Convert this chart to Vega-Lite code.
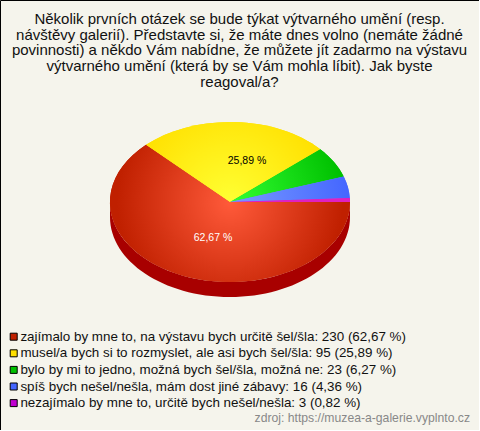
{
"$schema":"https://vega.github.io/schema/vega-lite/v6.json",
"width":479,"height":430,"padding":0,"autosize":{"type":"none"},
"background":"#f5f4ec",
"title":{"text":["Několik prvních otázek se bude týkat výtvarného umění (resp.","návštěvy galerií). Představte si, že máte dnes volno (nemáte žádné","povinnosti) a někdo Vám nabídne, že můžete jít zadarmo na výstavu","výtvarného umění (která by se Vám mohla líbit). Jak byste","reagoval/a?"],
"font":"Liberation Sans","fontSize":15,"fontWeight":"normal","color":"#111111","lineHeight":15.8,"anchor":"middle","frame":"group","baseline":"top","offset":-90},
"config":{"view":{"stroke":"#000000","strokeWidth":1,"fill":"#f5f4ec"}},
"data":{"values":[
{"answer":"zajímalo by mne to, na výstavu bych určitě šel/šla","count":230,"share":"62,67 %","label":"zajímalo by mne to, na výstavu bych určitě šel/šla: 230 (62,67 %)"},
{"answer":"musel/a bych si to rozmyslet, ale asi bych šel/šla","count":95,"share":"25,89 %","label":"musel/a bych si to rozmyslet, ale asi bych šel/šla: 95 (25,89 %)"},
{"answer":"bylo by mi to jedno, možná bych šel/šla, možná ne","count":23,"share":"6,27 %","label":"bylo by mi to jedno, možná bych šel/šla, možná ne: 23 (6,27 %)"},
{"answer":"spíš bych nešel/nešla, mám dost jiné zábavy","count":16,"share":"4,36 %","label":"spíš bych nešel/nešla, mám dost jiné zábavy: 16 (4,36 %)"},
{"answer":"nezajímalo by mne to, určitě bych nešel/nešla","count":3,"share":"0,82 %","label":"nezajímalo by mne to, určitě bych nešel/nešla: 3 (0,82 %)"}
]},
"encoding":{
"x":{"datum":0,"type":"quantitative","axis":null,"scale":{"domain":[-230,249],"nice":false,"zero":false}},
"y":{"datum":0,"type":"quantitative","axis":null,"scale":{"domain":[-228,202],"nice":false,"zero":false}}
},
"layer":[
{"transform":[{"filter":"datum.count===230"}],
 "mark":{"type":"point","filled":true,"opacity":1,"size":57600,"color":"#a80000","shape":"M-1,0 L-1,.125 A1,.6667 0 0 0 1,.125 L1,0 A1,.6667 0 0 1 -1,0 Z"}},
{"mark":{"type":"point","filled":true,"opacity":1,"size":57600},
 "encoding":{
  "shape":{"field":"label","type":"nominal","sort":null,"legend":null,"scale":{"range":[
    "M0,0 L-.69996,-.47612 A1,.6667 0 1 0 1,0 Z",
    "M0,0 L.75216,-.43931 A1,.6667 0 0 0 -.69996,-.47612 Z",
    "M0,0 L.94749,-.21319 A1,.6667 0 0 0 .75216,-.43931 Z",
    "M0,0 L.99867,-.03431 A1,.6667 0 0 0 .94749,-.21319 Z",
    "M0,0 L1,0 A1,.6667 0 0 0 .99867,-.03431 Z"]}},
  "color":{"field":"label","type":"nominal","sort":null,
    "scale":{"range":["#c02000","#ffe000","#00c000","#4466ff","#c000d0"]},
    "legend":{"title":null,"orient":"none","legendX":7,"legendY":330,"symbolType":"square","symbolSize":49,"symbolStrokeColor":"#000000","symbolStrokeWidth":1,"symbolOpacity":1,"labelFont":"Liberation Sans","labelFontSize":13.4,"labelColor":"#111111","labelLimit":470,"rowPadding":1.6,"labelOffset":0,"symbolFillColor":null}}
 }},
{"mark":{"type":"point","filled":true,"opacity":1,"size":57600},
 "encoding":{
  "shape":{"field":"label","type":"nominal","sort":null,"legend":null},
  "color":{"condition":[
    {"test":"datum.count===230","value":{"gradient":"radial","x1":0.5,"y1":0.4525,"r1":0,"x2":0.5,"y2":0.4525,"r2":0.47,"stops":[{"offset":0,"color":"#ff5a3a"},{"offset":1,"color":"#c02000"}]}},
    {"test":"datum.count===95","value":{"gradient":"radial","x1":0.482,"y1":0.729,"r1":0,"x2":0.482,"y2":0.729,"r2":0.6,"stops":[{"offset":0,"color":"#ffff33"},{"offset":1,"color":"#ffe000"}]}},
    {"test":"datum.count===23","value":{"gradient":"radial","x1":0,"y1":0.732,"r1":0,"x2":0,"y2":0.732,"r2":1,"stops":[{"offset":0,"color":"#33ff33"},{"offset":1,"color":"#00c000"}]}},
    {"test":"datum.count===16","value":{"gradient":"radial","x1":0,"y1":0.6066,"r1":0,"x2":0,"y2":0.6066,"r2":1,"stops":[{"offset":0,"color":"#7a9aff"},{"offset":1,"color":"#4466ff"}]}}
  ],"value":"#e020c0"}
 }},
{"transform":[{"filter":"datum.count===230"}],
 "mark":{"type":"text","font":"Liberation Sans","fontSize":10.5,"color":"#ffffff"},
 "encoding":{"text":{"field":"share"},"x":{"datum":-17},"y":{"datum":-36}}},
{"transform":[{"filter":"datum.count===95"}],
 "mark":{"type":"text","font":"Liberation Sans","fontSize":10.5,"color":"#000000"},
 "encoding":{"text":{"field":"share"},"x":{"datum":17},"y":{"datum":41}}},
{"data":{"values":[{"source":"zdroj: https://muzea-a-galerie.vyplnto.cz"}]},
 "mark":{"type":"text","font":"Liberation Sans","fontSize":12.2,"color":"#888888","align":"right"},
 "encoding":{"text":{"field":"source"},"x":{"datum":240},"y":{"datum":-216}}}
]
}
